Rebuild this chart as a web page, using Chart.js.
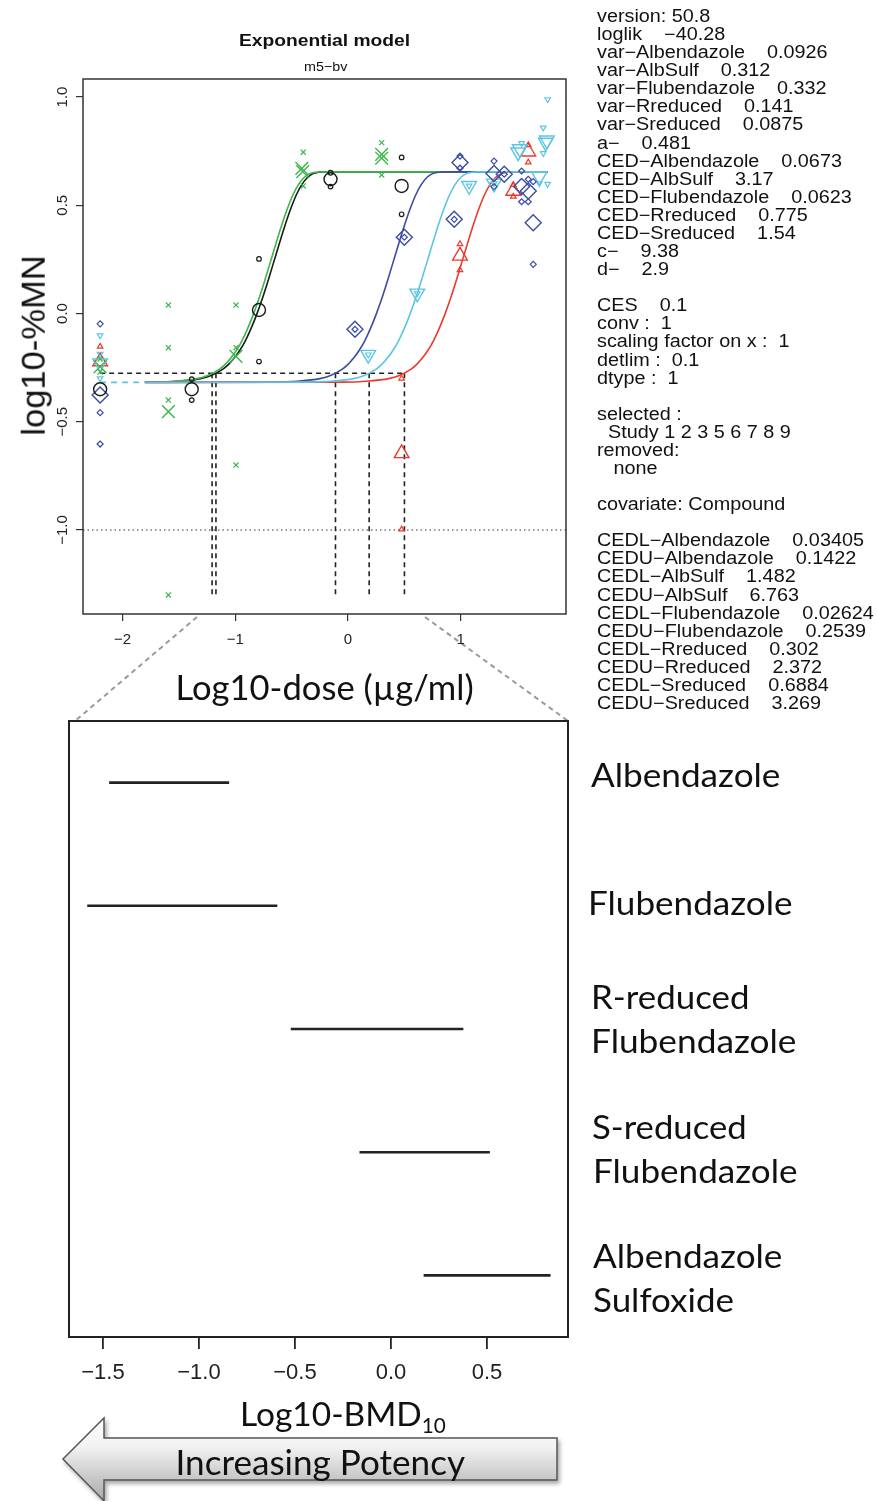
<!DOCTYPE html>
<html><head><meta charset="utf-8">
<script src="https://cdn.jsdelivr.net/npm/chart.js@4.4.1/dist/chart.umd.min.js"></script>
<style>
html,body{margin:0;padding:0;background:#fff;}
body{width:877px;height:1501px;position:relative;overflow:hidden;font-family:"Liberation Sans",Arial,sans-serif;}
canvas{position:absolute;}
.t{position:absolute;white-space:pre;color:#111;line-height:1;}
</style></head><body>
<svg width="877" height="1501" style="position:absolute;left:0;top:0">
<defs>
<linearGradient id="g" x1="0" y1="0" x2="0" y2="1"><stop offset="0" stop-color="#ffffff"/><stop offset="0.35" stop-color="#f2f2f2"/><stop offset="1" stop-color="#a9a9a9"/></linearGradient>
<filter id="sh" x="-10%" y="-30%" width="120%" height="160%"><feDropShadow dx="2" dy="3" stdDeviation="2" flood-color="#000" flood-opacity="0.35"/></filter>
</defs>
<line x1="197" y1="617" x2="75" y2="721" stroke="#9a9a9a" stroke-width="2" stroke-dasharray="5,4"/>
<line x1="425" y1="617" x2="568" y2="721" stroke="#9a9a9a" stroke-width="2" stroke-dasharray="5,4"/>
<polygon points="63,1459 104,1418 104,1438 557,1438 557,1480 104,1480 104,1501" fill="url(#g)" stroke="#555" stroke-width="1.5" filter="url(#sh)"/>
</svg>
<canvas id="c1" width="590" height="705" style="left:0;top:0;width:590px;height:705px"></canvas>
<canvas id="c2" width="590" height="800" style="left:0;top:700px;width:590px;height:800px"></canvas>
<script>
// ---------- data: top panel (log10 dose vs log10 %MN) ----------
const xTicksTop = [-2, -1, 0, 1];
const yTicksTop = [-1, -0.5, 0, 0.5, 1];
const logCED = [-1.206, -1.172, -0.111, 0.188, 0.501];   // Flub, Alb, Rred, Sred, AlbSulf
const cedLevel = -0.276;
const cedLineStart = -2.2;
const cedLineBottom = -1.30;
const detLimit = -1.0;
const baseLevel = -0.318;
const baseDashX = [-2.2, -1.8];

const albCurve = [[-1.80,-0.317],[-1.51,-0.313],[-1.31,-0.301],[-1.21,-0.285],[-1.11,-0.257],[-1.06,-0.235],[-1.01,-0.206],[-0.96,-0.170],[-0.91,-0.125],[-0.86,-0.069],[-0.81,-0.004],[-0.76,0.069],[-0.71,0.150],[-0.66,0.236],[-0.61,0.322],[-0.56,0.405],[-0.51,0.481],[-0.46,0.546],[-0.41,0.595],[-0.36,0.628],[-0.31,0.646],[-0.26,0.652],[-0.21,0.654],[1.77,0.654]];
const flubCurve = [[-1.80,-0.317],[-1.54,-0.313],[-1.34,-0.301],[-1.24,-0.285],[-1.14,-0.257],[-1.09,-0.235],[-1.04,-0.206],[-0.99,-0.170],[-0.94,-0.125],[-0.89,-0.069],[-0.84,-0.004],[-0.79,0.069],[-0.74,0.150],[-0.69,0.236],[-0.64,0.322],[-0.59,0.405],[-0.54,0.481],[-0.49,0.546],[-0.44,0.595],[-0.39,0.628],[-0.34,0.646],[-0.29,0.652],[-0.24,0.654],[1.77,0.654]];
const rredCurve = [[-1.80,-0.318],[-0.65,-0.317],[-0.45,-0.313],[-0.25,-0.301],[-0.15,-0.285],[-0.05,-0.257],[0.00,-0.235],[0.05,-0.206],[0.10,-0.170],[0.15,-0.125],[0.20,-0.069],[0.25,-0.004],[0.30,0.069],[0.35,0.150],[0.40,0.236],[0.45,0.322],[0.50,0.405],[0.55,0.481],[0.60,0.546],[0.65,0.595],[0.70,0.628],[0.75,0.646],[0.80,0.652],[0.85,0.654],[1.77,0.654]];
const sredCurve = [[-1.80,-0.318],[-0.35,-0.317],[-0.15,-0.313],[0.05,-0.301],[0.15,-0.285],[0.25,-0.257],[0.30,-0.235],[0.35,-0.206],[0.40,-0.170],[0.45,-0.125],[0.50,-0.069],[0.55,-0.004],[0.60,0.069],[0.65,0.150],[0.70,0.236],[0.75,0.322],[0.80,0.405],[0.85,0.481],[0.90,0.546],[0.95,0.595],[1.00,0.628],[1.05,0.646],[1.10,0.652],[1.15,0.654],[1.77,0.654]];
const albsulfCurve = [[-1.80,-0.318],[-0.04,-0.317],[0.16,-0.313],[0.36,-0.301],[0.46,-0.285],[0.56,-0.257],[0.61,-0.235],[0.66,-0.206],[0.71,-0.170],[0.76,-0.125],[0.81,-0.069],[0.86,-0.004],[0.91,0.069],[0.96,0.150],[1.01,0.236],[1.06,0.322],[1.11,0.405],[1.16,0.481],[1.21,0.546],[1.26,0.595],[1.31,0.628],[1.36,0.646],[1.41,0.652],[1.46,0.654],[1.77,0.654]];

const albMeans = [[-2.2,-0.35],[-1.387,-0.35],[-0.79,0.016],[-0.155,0.62],[0.476,0.589]];
const albObs = [[-1.387,-0.303],[-1.387,-0.40],[-0.79,0.252],[-0.79,-0.222],[-0.155,0.65],[-0.155,0.586],[0.476,0.721],[0.476,0.458]];
const flubMeans = [[-2.2,-0.246],[-1.594,-0.453],[-0.994,-0.198],[-0.402,0.655],[-0.41,0.67],[0.299,0.717],[0.299,0.735]];
const flubObs = [[-2.2,-0.21],[-2.2,-0.27],[-1.594,0.039],[-1.594,-0.158],[-1.594,-0.40],[-1.594,-1.30],[-0.994,0.039],[-0.994,-0.158],[-0.994,-0.70],[-0.397,0.745],[-0.397,0.589],[0.299,0.789],[0.299,0.64]];
const rredMeans = [[-2.2,-0.376],[0.062,-0.073],[0.5,0.352],[0.943,0.435],[0.994,0.697],[1.296,0.647],[1.387,0.643],[1.541,0.586],[1.60,0.566],[1.644,0.419]];
const rredObs = [[-2.2,-0.048],[-2.2,-0.458],[-2.2,-0.603],[0.062,-0.073],[0.5,0.352],[0.943,0.435],[0.994,0.727],[0.994,0.671],[1.296,0.704],[1.296,0.586],[1.387,0.643],[1.541,0.658],[1.541,0.516],[1.60,0.62],[1.60,0.516],[1.644,0.609],[1.644,0.227]];
const sredMeans = [[-2.2,-0.23],[0.18,-0.19],[0.615,0.093],[1.075,0.59],[1.296,0.601],[1.51,0.745],[1.525,0.76],[1.698,0.632],[1.755,0.79],[1.765,0.80]];
const sredObs = [[-2.2,-0.102],[-2.2,-0.187],[-2.2,-0.30],[0.18,-0.19],[0.615,0.093],[1.075,0.59],[1.296,0.601],[1.541,0.786],[1.733,0.858],[1.772,0.989],[1.733,0.74],[1.698,0.601],[1.772,0.598]];
const albsulfMeans = [[-2.2,-0.222],[0.476,-0.646],[0.994,0.266],[1.467,0.566],[1.60,0.747]];
const albsulfObs = [[-2.2,-0.153],[0.476,-0.30],[0.476,-0.997],[0.994,0.321],[0.994,0.201],[1.467,0.594],[1.467,0.54],[1.60,0.778],[1.60,0.698]];

// ---------- data: bottom panel (BMD10 confidence intervals) ----------
const bmdRows = ['Albendazole', 'Flubendazole', 'R-reduced Flubendazole', 'S-reduced Flubendazole', 'Albendazole Sulfoxide'];
const bmdLower = [-1.468, -1.582, -0.522, -0.164, 0.170];
const bmdUpper = [-0.843, -0.592, 0.377, 0.515, 0.831];
const bmdXTicks = [-1.5, -1.0, -0.5, 0.0, 0.5];

// ---------- info text ----------
const infoLines = [
 'version: 50.8','loglik    \u221240.28','var\u2212Albendazole    0.0926','var\u2212AlbSulf    0.312','var\u2212Flubendazole    0.332',
 'var\u2212Rreduced    0.141','var\u2212Sreduced    0.0875','a\u2212    0.481','CED\u2212Albendazole    0.0673','CED\u2212AlbSulf    3.17',
 'CED\u2212Flubendazole    0.0623','CED\u2212Rreduced    0.775','CED\u2212Sreduced    1.54','c\u2212    9.38','d\u2212    2.9','',
 'CES    0.1','conv :  1','scaling factor on x :  1','detlim :  0.1','dtype :  1','',
 'selected :','  Study 1 2 3 5 6 7 8 9','removed:','   none','','covariate: Compound','',
 'CEDL\u2212Albendazole    0.03405','CEDU\u2212Albendazole    0.1422','CEDL\u2212AlbSulf    1.482','CEDU\u2212AlbSulf    6.763',
 'CEDL\u2212Flubendazole    0.02624','CEDU\u2212Flubendazole    0.2539','CEDL\u2212Rreduced    0.302','CEDU\u2212Rreduced    2.372',
 'CEDL\u2212Sreduced    0.6884','CEDU\u2212Sreduced    3.269'
];

// ---------- colours ----------
const C = {alb:'#1a1a1a', flub:'#3cb54a', rred:'#3a4ca3', sred:'#5cc5e2', albsulf:'#ee3a2c'};

const pts = a => a.map(([x,y]) => ({x, y}));
const minus = s => String(s).replace('-', '\u2212');

function lineDs(data, color, width, dash, order, mono){
  return {data: pts(data), showLine:true, borderColor:color, borderWidth:width, borderDash:dash||[],
          pointRadius:0, fill:false, order:order, cubicInterpolationMode: mono ? 'monotone' : 'default'};
}
function ptDs(data, color, style, r, rot, bw, order){
  return {data: pts(data), showLine:false, pointStyle:style, pointRadius:r, pointRotation:rot||0,
          pointBorderColor:color, pointBackgroundColor:'rgba(0,0,0,0)', pointBorderWidth:bw, order:order};
}

const framePlugin = {
  id:'frame',
  afterDatasetsDraw(chart, args, o){
    const {ctx, chartArea:a} = chart;
    ctx.save(); ctx.strokeStyle = o.color; ctx.lineWidth = o.width;
    ctx.strokeRect(a.left, a.top, a.right - a.left, a.bottom - a.top);
    ctx.restore();
  }
};
const rotYPlugin = {
  id:'rotY',
  afterDraw(chart, args, o){
    if (!o.on) return;
    const s = chart.scales.y, ctx = chart.ctx;
    ctx.save(); ctx.font = '15px "Liberation Sans", Arial'; ctx.fillStyle = '#222';
    ctx.textAlign = 'center'; ctx.textBaseline = 'middle';
    s.ticks.forEach(t => {
      const y = s.getPixelForValue(t.value);
      ctx.save(); ctx.translate(o.x, y); ctx.rotate(-Math.PI/2);
      ctx.fillText(minus(t.value.toFixed(1)), 0, 0); ctx.restore();
    });
    ctx.restore();
  }
};

// ---------- top chart ----------
const topDatasets = [
  ptDs(albMeans, C.alb, 'circle', 6.5, 0, 1.4, 0),
  ptDs(albObs, C.alb, 'circle', 2.3, 0, 1.2, 0),
  ptDs(flubMeans, C.flub, 'crossRot', 9, 0, 1.4, 0),
  ptDs(flubObs, C.flub, 'crossRot', 3.6, 0, 1.2, 0),
  ptDs(rredMeans, C.rred, 'rectRot', 8, 0, 1.4, 0),
  ptDs(rredObs, C.rred, 'rectRot', 3, 0, 1.2, 0),
  ptDs(sredMeans, C.sred, 'triangle', 8.5, 180, 1.4, 0),
  ptDs(sredObs, C.sred, 'triangle', 3.2, 180, 1.2, 0),
  ptDs(albsulfMeans, C.albsulf, 'triangle', 8.5, 0, 1.4, 0),
  ptDs(albsulfObs, C.albsulf, 'triangle', 3.2, 0, 1.2, 0),
  lineDs(sredCurve, C.sred, 1.6, null, 1, true),
  lineDs(albsulfCurve, C.albsulf, 1.6, null, 2, true),
  lineDs(rredCurve, C.rred, 1.6, null, 3, true),
  lineDs(flubCurve, C.flub, 1.6, null, 4, true),
  lineDs(albCurve, C.alb, 1.6, null, 5, true),
  lineDs([[baseDashX[0], baseLevel],[baseDashX[1], baseLevel]], C.sred, 1.6, [6,5], 6),
  lineDs([[cedLineStart, cedLevel],[logCED[4], cedLevel]], '#222', 1.6, [5,4], 7),
  lineDs([[-2.352, detLimit],[1.935, detLimit]], '#333', 1.2, [1.5,3], 8)
];
logCED.forEach(c => topDatasets.push(lineDs([[c, cedLevel],[c, cedLineBottom]], '#222', 1.6, [5,4], 7)));

new Chart(document.getElementById('c1'), {
  type:'scatter',
  data:{datasets: topDatasets},
  plugins:[framePlugin, rotYPlugin],
  options:{
    responsive:false, animation:false, events:[],
    layout:{padding:{left:0, top:79, right:24, bottom:0}},
    plugins:{legend:{display:false}, tooltip:{enabled:false}, frame:{color:'#333', width:1.5}, rotY:{on:true, x:63}},
    scales:{
      x:{type:'linear', min:-2.352, max:1.935,
         afterBuildTicks: s => { s.ticks = xTicksTop.map(v => ({value:v})); },
         afterFit: s => { s.height = 91; },
         border:{display:false},
         grid:{drawOnChartArea:false, drawTicks:true, tickLength:7, color:'#333', lineWidth:1.2},
         ticks:{font:{family:'"Liberation Sans", Arial', size:15}, color:'#222', padding:10, callback: v => minus(v)}},
      y:{type:'linear', min:-1.388, max:1.083,
         afterBuildTicks: s => { s.ticks = yTicksTop.map(v => ({value:v})); },
         afterFit: s => { s.width = 83; },
         border:{display:false},
         grid:{drawOnChartArea:false, drawTicks:true, tickLength:7, color:'#333', lineWidth:1.2},
         ticks:{display:false}}
    }
  }
});

// ---------- bottom chart ----------
const botDatasets = bmdRows.map((r, i) => lineDs([[bmdLower[i], i + 1],[bmdUpper[i], i + 1]], '#222', 2.6, null, 0));
new Chart(document.getElementById('c2'), {
  type:'scatter',
  data:{datasets: botDatasets},
  plugins:[framePlugin],
  options:{
    responsive:false, animation:false, events:[],
    layout:{padding:{left:69, top:21, right:22, bottom:0}},
    plugins:{legend:{display:false}, tooltip:{enabled:false}, frame:{color:'#222', width:2}},
    scales:{
      x:{type:'linear', min:-1.677, max:0.922,
         afterBuildTicks: s => { s.ticks = bmdXTicks.map(v => ({value:v})); },
         afterFit: s => { s.height = 163; },
         border:{display:false},
         grid:{drawOnChartArea:false, drawTicks:true, tickLength:12, color:'#222', lineWidth:1.8},
         ticks:{font:{family:'"Liberation Sans", Arial', size:22}, color:'#222', padding:11, callback: v => minus(v.toFixed(1))}},
      y:{type:'linear', display:false, min:0.5, max:5.5, reverse:true}
    }
  }
});

// ---------- text ----------
function addText(html, o){
  const el = document.createElement('span');
  el.className = 't';
  el.innerHTML = html;
  el.style.fontFamily = o.family || '"Liberation Sans", Arial, sans-serif';
  el.style.fontSize = o.size + 'px';
  if (o.weight) el.style.fontWeight = o.weight;
  document.body.appendChild(el);
  const w = el.offsetWidth, h = el.offsetHeight;
  const s = o.width ? o.width / w : 1;
  const left = o.align === 'left' ? o.x : o.x - w / 2;
  el.style.left = left + 'px';
  el.style.top = (o.y - h / 2) + 'px';
  el.style.transformOrigin = o.align === 'left' ? 'left center' : 'center center';
  el.style.transform = (o.rotate ? 'rotate(' + o.rotate + 'deg) ' : '') + 'scaleX(' + s + ')';
  return s;
}
const sans = '"Liberation Sans", Arial, sans-serif';
const lato = 'Lato, "Open Sans", sans-serif';
addText('Exponential model', {x:324, y:40, size:17, weight:'bold', width:171});
addText('m5\u2212bv', {x:325, y:66, size:13, width:43});
addText('log10-%MN', {x:33, y:345, size:33, width:180, rotate:-90});
addText('Log10-dose (\u00b5g/ml)', {x:324, y:687, size:34, family:lato, width:298});

// info panel
(function(){
  const fs = '17.5px';
  const probe = document.createElement('span');
  probe.className = 't'; probe.style.fontFamily = sans; probe.style.fontSize = fs;
  probe.textContent = 'CEDL\u2212Albendazole    0.03405';
  document.body.appendChild(probe);
  const s = 267 / probe.offsetWidth;
  probe.remove();
  infoLines.forEach((t, i) => {
    if (!t) return;
    const el = document.createElement('span');
    el.className = 't'; el.style.fontFamily = sans; el.style.fontSize = fs;
    el.textContent = t;
    document.body.appendChild(el);
    const h = el.offsetHeight;
    el.style.left = '597px';
    el.style.top = (17 + i * 18.08 - h / 2) + 'px';
    el.style.transformOrigin = 'left center';
    el.style.transform = 'scaleX(' + s + ')';
  });
})();

// bottom-right labels
const rowLabels = [
  ['Albendazole', 591, 775, 189], ['Flubendazole', 588, 903, 204],
  ['R-reduced', 591, 997, 158], ['Flubendazole', 591, 1041, 205],
  ['S-reduced', 592, 1127, 155], ['Flubendazole', 593, 1171, 204],
  ['Albendazole', 593, 1256, 189], ['Sulfoxide', 593, 1300, 141]
];
rowLabels.forEach(([t, x, y, w]) => addText(t, {x, y, size:32, family:lato, width:w, align:'left'}));
addText('Log10-BMD<span style="font-size:62%;position:relative;top:0.35em">10</span>', {x:240, y:1413, size:33, family:lato, width:206, align:'left'});
addText('Increasing Potency', {x:320, y:1462, size:34, family:lato, width:290});
</script>
</body></html>
